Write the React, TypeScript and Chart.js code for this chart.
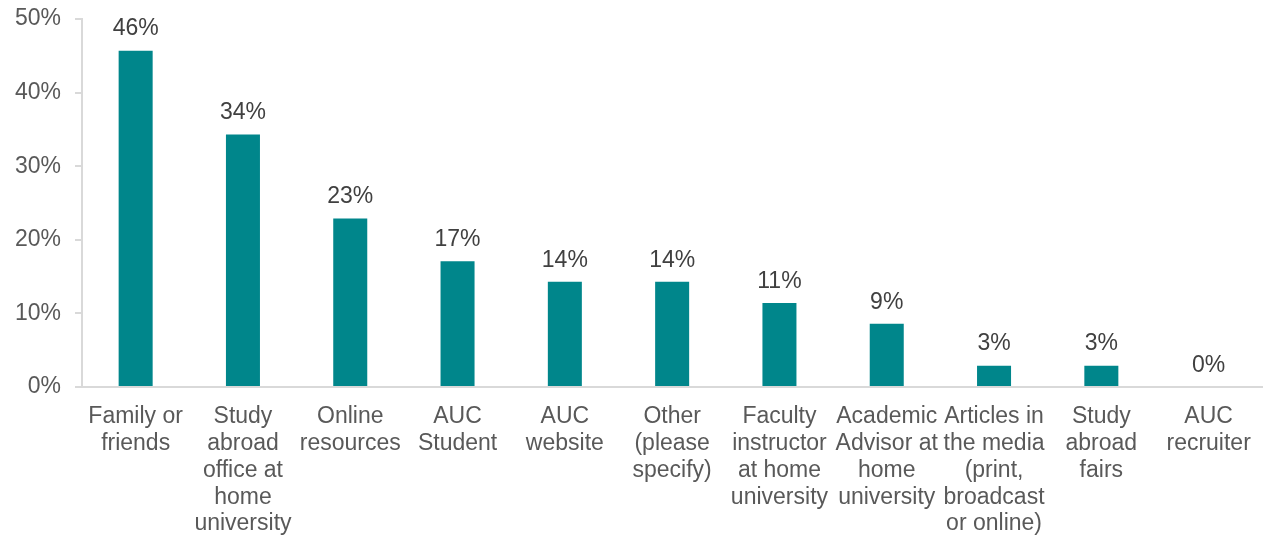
import React, { useEffect, useRef } from "react";
import { Chart, registerables } from "chart.js";

Chart.register(...registerables);

const categories: string[][] = [
  ["Family or", "friends"],
  ["Study", "abroad", "office at", "home", "university"],
  ["Online", "resources"],
  ["AUC", "Student"],
  ["AUC", "website"],
  ["Other", "(please", "specify)"],
  ["Faculty", "instructor", "at home", "university"],
  ["Academic", "Advisor at", "home", "university"],
  ["Articles in", "the media", "(print,", "broadcast", "or online)"],
  ["Study", "abroad", "fairs"],
  ["AUC", "recruiter"],
];
const values: number[] = [45.7, 34.3, 22.9, 17.1, 14.3, 14.3, 11.4, 8.6, 2.9, 2.9, 0];
const valueLabels: string[] = ["46%", "34%", "23%", "17%", "14%", "14%", "11%", "9%", "3%", "3%", "0%"];
const yTicks: number[] = [0, 10, 20, 30, 40, 50];

const FONT = "'Liberation Sans', Arial, sans-serif";

const labelPlugin = {
  id: "valueLabels",
  afterDatasetsDraw(chart: any) {
    const ctx = chart.ctx;
    const meta = chart.getDatasetMeta(0);
    ctx.save();
    ctx.font = `23px ${FONT}`;
    ctx.fillStyle = "#404040";
    ctx.textAlign = "center";
    ctx.textBaseline = "bottom";
    meta.data.forEach((el: any, i: number) => {
      ctx.fillText(valueLabels[i], el.x, el.y - 10);
    });
    ctx.restore();
  },
};

export default function App() {
  const ref = useRef<HTMLCanvasElement>(null);
  useEffect(() => {
    document.body.style.margin = "0";
    const chart = new Chart(ref.current!, {
      type: "bar",
      data: {
        labels: categories,
        datasets: [
          {
            data: values,
            backgroundColor: "#00868B",
            categoryPercentage: 1,
            barPercentage: 0.317,
          },
        ],
      },
      options: {
        animation: false,
        responsive: false,
        layout: { padding: { top: 19, right: 4, left: 0, bottom: 0 } },
        plugins: { legend: { display: false }, tooltip: { enabled: false } },
        scales: {
          y: {
            min: 0,
            max: 50,
            afterBuildTicks: (s: any) => {
              s.ticks = yTicks.map((v) => ({ value: v }));
            },
            afterFit: (s: any) => {
              s.width = 82;
              s.paddingTop = 0;
              s.paddingBottom = 0;
            },
            ticks: {
              callback: (v: any) => v + "%",
              color: "#595959",
              font: { family: FONT, size: 23, lineHeight: 0.5 },
              padding: 14,
            },
            grid: {
              drawOnChartArea: false,
              drawTicks: true,
              tickLength: 7,
              color: "#d9d9d9",
              lineWidth: 2,
            },
            border: { display: true, color: "#d9d9d9", width: 2 },
          },
          x: {
            afterFit: (s: any) => {
              s.height = 153;
            },
            ticks: {
              color: "#595959",
              font: { family: FONT, size: 23, lineHeight: 1.17 },
              padding: 16,
              maxRotation: 0,
              minRotation: 0,
              autoSkip: false,
            },
            grid: { drawOnChartArea: false, drawTicks: false },
            border: { display: true, color: "#d9d9d9", width: 2 },
          },
        },
      },
      plugins: [labelPlugin],
    });
    return () => chart.destroy();
  }, []);
  return <canvas ref={ref} width={1267} height={540} style={{ display: "block" }} />;
}
